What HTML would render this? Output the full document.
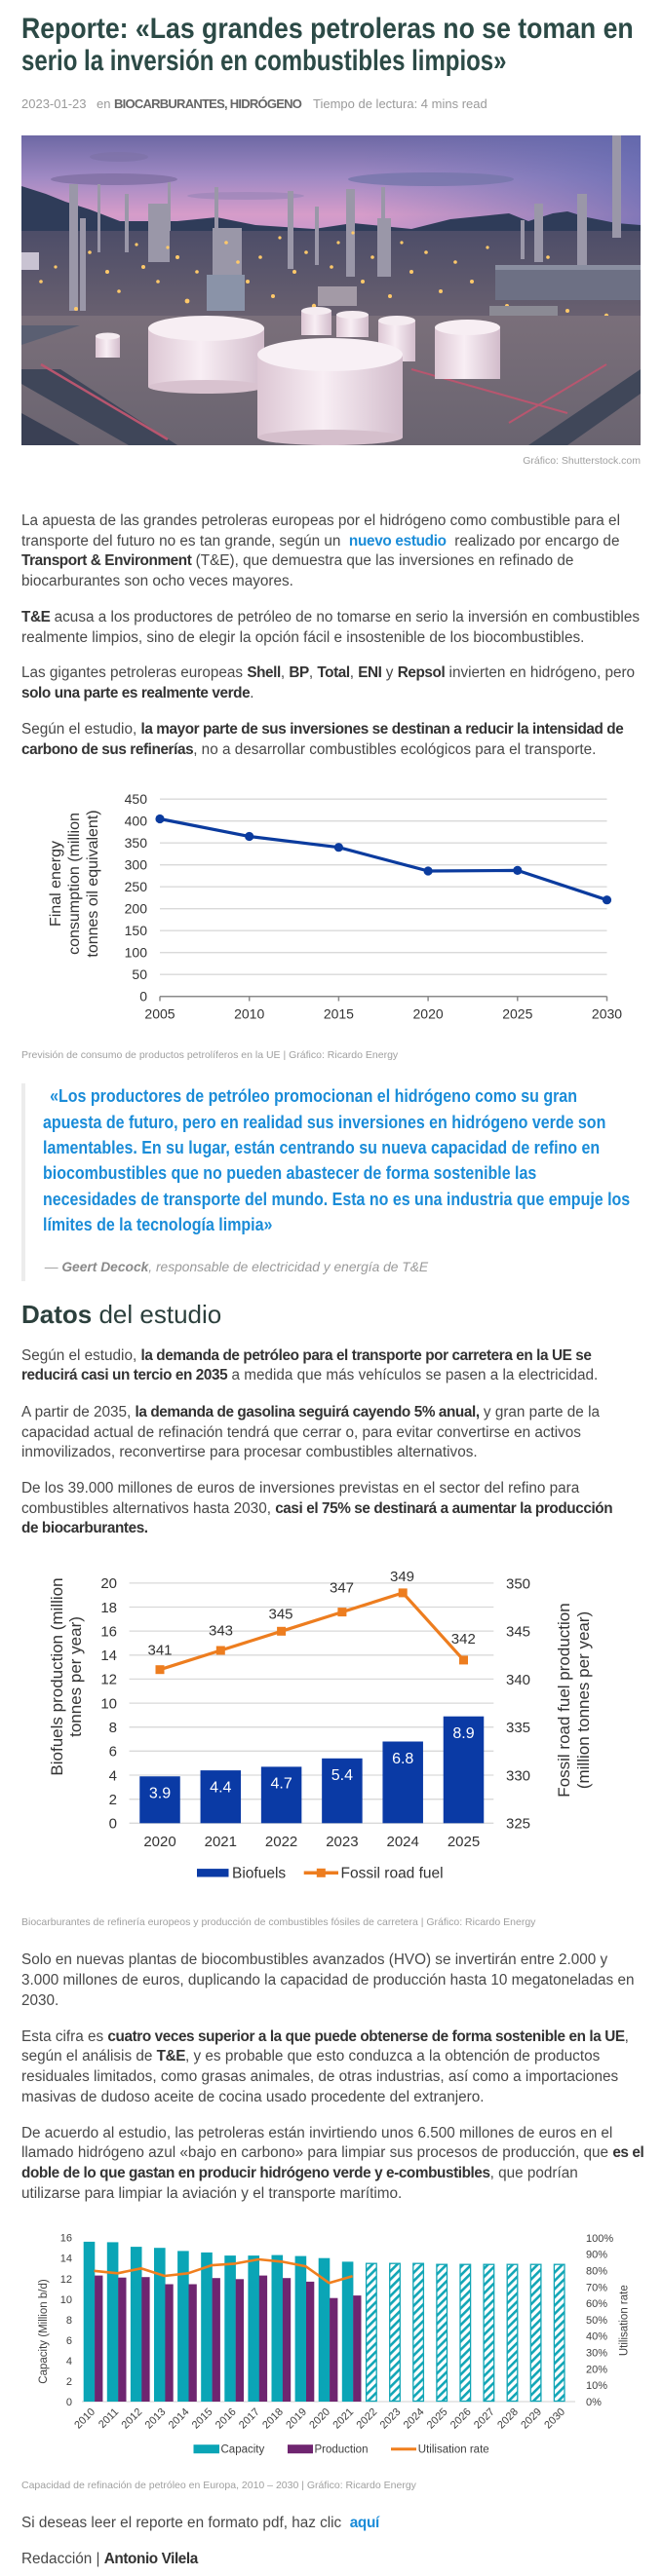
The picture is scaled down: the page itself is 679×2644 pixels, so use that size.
<!DOCTYPE html>
<html><head><meta charset="utf-8">
<style>
*{margin:0;padding:0;box-sizing:border-box}
html,body{width:679px;height:2644px;background:#fff;overflow:hidden}
body{position:relative;font-family:"Liberation Sans",Arial,sans-serif;color:#444}
.a{position:absolute;white-space:nowrap}
.t{position:absolute;left:22px;white-space:nowrap;font-size:15.3px;line-height:20.6px;color:#484848}
.t b{color:#333;letter-spacing:-0.4px}
.t a,.lnk{color:#1a8cd8;font-weight:bold;text-decoration:none;letter-spacing:-0.3px}
.title{position:absolute;left:22px;white-space:nowrap;font-size:30px;line-height:33px;font-weight:bold;color:#2c4a46;transform-origin:0 0}
.meta{position:absolute;top:97px;font-size:13px;line-height:20px;color:#9a9a9a;white-space:nowrap}
.cap{position:absolute;left:22px;font-size:10.5px;line-height:14px;color:#a0a0a0;white-space:nowrap}
.q{position:absolute;left:44.4px;top:1112.4px;font-size:18px;line-height:26.3px;font-weight:bold;color:#1a8cd8;white-space:nowrap;transform:scaleX(.888);transform-origin:0 0}
svg text{font-family:"Liberation Sans",Arial,sans-serif}
</style></head><body>

<div class="title" style="top:13px;transform:scaleX(.888)">Reporte: «Las grandes petroleras no se toman en</div>
<div class="title" style="top:46px;transform:scaleX(.80)">serio la inversión en combustibles limpios»</div>

<div class="meta" style="left:22px">2023-01-23</div>
<div class="meta" style="left:99px">en</div>
<div class="meta" style="left:117px;font-weight:bold;color:#666;letter-spacing:-0.75px">BIOCARBURANTES, HIDRÓGENO</div>
<div class="meta" style="left:321px">Tiempo de lectura: 4 mins read</div>

<svg class="a" style="left:22px;top:139px" width="635" height="318" viewBox="0 0 635 318">
<defs>
<linearGradient id="sky" x1="0" y1="0" x2="0" y2="1">
<stop offset="0" stop-color="#6d68a4"/><stop offset=".35" stop-color="#a08ac4"/><stop offset=".65" stop-color="#d69cc9"/><stop offset="1" stop-color="#b894cf"/>
</linearGradient>
<linearGradient id="skyr" x1="0" y1="0" x2="1" y2="0">
<stop offset="0" stop-color="#6f74b8" stop-opacity="0"/><stop offset=".55" stop-color="#6f74b8" stop-opacity="0"/><stop offset="1" stop-color="#5f68b0" stop-opacity=".7"/>
</linearGradient>
<linearGradient id="tk" x1="0" y1="0" x2="1" y2="0"><stop offset="0" stop-color="#dcc6d3"/><stop offset=".45" stop-color="#f8eef4"/><stop offset="1" stop-color="#d2bccb"/></linearGradient>
<linearGradient id="band" x1="0" y1="0" x2="0" y2="1"><stop offset="0" stop-color="#4d4d68"/><stop offset="1" stop-color="#6a6170"/></linearGradient>
<linearGradient id="gnd" x1="0" y1="0" x2="0" y2="1"><stop offset="0" stop-color="#7a6f7a"/><stop offset="1" stop-color="#6a6470"/></linearGradient>
</defs>
<rect width="635" height="125" fill="url(#sky)"/>
<rect width="635" height="125" fill="url(#skyr)"/>
<ellipse cx="95" cy="45" rx="65" ry="6" fill="#7f6fa2" opacity=".8"/>
<ellipse cx="100" cy="22" rx="30" ry="5" fill="#7d72a6" opacity=".7"/>
<ellipse cx="420" cy="45" rx="85" ry="7" fill="#7576aa" opacity=".8"/>
<ellipse cx="230" cy="62" rx="60" ry="4" fill="#9b86b8" opacity=".7"/>
<path d="M0 52 L25 60 L45 68 L70 76 L101 88 L160 88 L200 84 L240 92 L300 96 L340 90 L400 96 L440 86 L480 82 L500 80 L520 88 L545 80 L560 78 L580 84 L610 90 L635 92 L635 130 L0 130Z" fill="#2f3c59"/>
<rect x="0" y="98" width="635" height="92" fill="url(#band)"/>
<g fill="#9a97a8">
<rect x="49" y="50" width="9" height="130"/><rect x="60" y="85" width="6" height="95"/><rect x="78" y="50" width="3" height="70"/>
<rect x="106" y="60" width="4" height="60"/><rect x="130" y="70" width="22" height="60"/><rect x="150" y="48" width="3" height="50"/>
<rect x="198" y="53" width="4" height="60"/><rect x="196" y="95" width="30" height="50"/><rect x="273" y="57" width="6" height="80"/>
<rect x="301" y="73" width="4" height="60"/><rect x="333" y="55" width="9" height="90"/><rect x="369" y="53" width="4" height="70"/>
<rect x="365" y="85" width="14" height="60"/><rect x="526" y="70" width="9" height="60"/><rect x="512" y="87" width="4" height="40"/>
<rect x="570" y="60" width="10" height="75"/><rect x="606" y="0" width="9" height="105"/>
</g>
<rect x="0" y="120" width="18" height="18" fill="#c9c3d2"/>
<g fill="#ffc96a">
<circle cx="20" cy="150" r="1.8"/><circle cx="35" cy="135" r="1.6"/><circle cx="70" cy="120" r="1.8"/><circle cx="88" cy="140" r="2"/><circle cx="100" cy="160" r="1.8"/>
<circle cx="118" cy="112" r="1.6"/><circle cx="125" cy="135" r="2"/><circle cx="140" cy="150" r="1.8"/><circle cx="160" cy="125" r="2"/><circle cx="170" cy="170" r="2.4"/>
<circle cx="180" cy="140" r="1.8"/><circle cx="210" cy="110" r="1.8"/><circle cx="232" cy="150" r="2"/><circle cx="245" cy="125" r="1.8"/><circle cx="258" cy="165" r="2"/>
<circle cx="265" cy="105" r="1.6"/><circle cx="280" cy="140" r="2"/><circle cx="292" cy="120" r="1.8"/><circle cx="300" cy="175" r="2.2"/><circle cx="318" cy="135" r="1.8"/>
<circle cx="325" cy="110" r="1.6"/><circle cx="350" cy="150" r="2"/><circle cx="360" cy="125" r="1.8"/><circle cx="378" cy="165" r="2"/><circle cx="390" cy="110" r="1.6"/>
<circle cx="400" cy="140" r="2"/><circle cx="415" cy="120" r="1.8"/><circle cx="430" cy="160" r="2"/><circle cx="445" cy="130" r="1.8"/><circle cx="462" cy="150" r="2"/>
<circle cx="478" cy="115" r="1.6"/><circle cx="498" cy="175" r="2"/><circle cx="540" cy="125" r="1.8"/><circle cx="560" cy="180" r="2"/><circle cx="600" cy="185" r="2.2"/>
<circle cx="95" cy="190" r="2.4"/><circle cx="56" cy="178" r="2"/><circle cx="150" cy="115" r="1.6"/><circle cx="222" cy="130" r="1.8"/><circle cx="340" cy="100" r="1.6"/>
</g>
<rect x="486" y="133" width="149" height="36" fill="#6d7084"/>
<rect x="486" y="133" width="149" height="5" fill="#8a8ea0"/>
<rect x="480" y="175" width="70" height="35" fill="#8b8a94"/>
<rect x="190" y="143" width="39" height="37" fill="#8a93a8"/>
<rect x="304" y="155" width="40" height="20" fill="#a39aa6"/>
<path d="M0 185 L635 185 L635 318 L0 318Z" fill="url(#gnd)"/>
<path d="M0 195 L60 195 L0 215Z" fill="#5a5f72"/>
<path d="M0 240 L40 240 L160 318 L110 318 L0 255Z" fill="#3f4659"/>
<path d="M0 285 L60 318 L0 318Z" fill="#3a4054"/>
<path d="M20 235 L150 312" stroke="#b8566f" stroke-width="2.5"/>
<path d="M520 318 L635 240 L635 265 L560 318Z" fill="#404759"/>
<path d="M400 240 L560 285" stroke="#b8566f" stroke-width="2"/>
<path d="M500 295 L600 235" stroke="#b8566f" stroke-width="2"/>
<g>
<rect x="76" y="206" width="25" height="22" fill="url(#tk)"/><ellipse cx="88.5" cy="206" rx="12.5" ry="3.5" fill="#f5ecf1"/>
<rect x="287" y="180" width="31" height="25" fill="url(#tk)"/><ellipse cx="302.5" cy="180" rx="15.5" ry="4" fill="#f5ecf1"/>
<rect x="323" y="184" width="33" height="23" fill="url(#tk)"/><ellipse cx="339.5" cy="184" rx="16.5" ry="4" fill="#f5ecf1"/>
<rect x="366" y="190" width="38" height="42" fill="url(#tk)"/><ellipse cx="385" cy="190" rx="19" ry="5" fill="#f5ecf1"/>
<rect x="130" y="198" width="119" height="60" fill="url(#tk)"/><ellipse cx="189.5" cy="198" rx="59.5" ry="13" fill="#f7eef3"/><ellipse cx="189.5" cy="258" rx="59.5" ry="7" fill="#d8c2cf"/>
<rect x="424" y="197" width="67" height="53" fill="url(#tk)"/><ellipse cx="457.5" cy="197" rx="33.5" ry="8" fill="#f7eef3"/>
<rect x="242" y="225" width="149" height="85" fill="url(#tk)"/><ellipse cx="316.5" cy="225" rx="74.5" ry="17" fill="#f8f0f5"/><ellipse cx="316.5" cy="310" rx="74.5" ry="8" fill="#d5bfcc"/>
</g>
</svg>
<div class="cap" style="left:auto;right:22px;top:466px">Gráfico: Shutterstock.com</div>

<div class="t" style="top:525.1px">La apuesta de las grandes petroleras europeas por el hidrógeno como combustible para el<br>transporte del futuro no es tan grande, según un&nbsp; <a>nuevo estudio</a>&nbsp; realizado por encargo de<br><b>Transport &amp; Environment</b> (T&amp;E), que demuestra que las inversiones en refinado de<br>biocarburantes son ocho veces mayores.</div>

<div class="t" style="top:624.1px"><b>T&amp;E</b> acusa a los productores de petróleo de no tomarse en serio la inversión en combustibles<br>realmente limpios, sino de elegir la opción fácil e insostenible de los biocombustibles.</div>

<div class="t" style="top:681.4px">Las gigantes petroleras europeas <b>Shell</b>, <b>BP</b>, <b>Total</b>, <b>ENI</b> y <b>Repsol</b> invierten en hidrógeno, pero<br><b>solo una parte es realmente verde</b>.</div>

<div class="t" style="top:739.1px">Según el estudio, <b>la mayor parte de sus inversiones se destinan a reducir la intensidad de</b><br><b>carbono de sus refinerías</b>, no a desarrollar combustibles ecológicos para el transporte.</div>

<!-- Chart 1 -->
<svg class="a" style="left:0;top:790px" width="679" height="280">
<g stroke="#d9d9d9" stroke-width="1.3">
<line x1="164" x2="622.5" y1="210.2" y2="210.2"/><line x1="164" x2="622.5" y1="187.7" y2="187.7"/>
<line x1="164" x2="622.5" y1="165.2" y2="165.2"/><line x1="164" x2="622.5" y1="142.7" y2="142.7"/>
<line x1="164" x2="622.5" y1="120.2" y2="120.2"/><line x1="164" x2="622.5" y1="97.7" y2="97.7"/>
<line x1="164" x2="622.5" y1="75.2" y2="75.2"/><line x1="164" x2="622.5" y1="52.7" y2="52.7"/>
<line x1="164" x2="622.5" y1="30.2" y2="30.2"/>
</g>
<g stroke="#8a8a8a" stroke-width="1.5">
<line x1="164" x2="622.5" y1="232.7" y2="232.7"/>
<line x1="164" x2="164" y1="232.7" y2="237.5"/><line x1="255.7" x2="255.7" y1="232.7" y2="237.5"/>
<line x1="347.4" x2="347.4" y1="232.7" y2="237.5"/><line x1="439.1" x2="439.1" y1="232.7" y2="237.5"/>
<line x1="530.8" x2="530.8" y1="232.7" y2="237.5"/><line x1="622.5" x2="622.5" y1="232.7" y2="237.5"/>
</g>
<g font-size="14" fill="#333" text-anchor="end">
<text x="151" y="237.7">0</text><text x="151" y="215.2">50</text><text x="151" y="192.7">100</text>
<text x="151" y="170.2">150</text><text x="151" y="147.7">200</text><text x="151" y="125.2">250</text>
<text x="151" y="102.7">300</text><text x="151" y="80.2">350</text><text x="151" y="57.7">400</text><text x="151" y="35.2">450</text>
</g>
<g font-size="14" fill="#333" text-anchor="middle">
<text x="164" y="255.5">2005</text><text x="255.7" y="255.5">2010</text><text x="347.4" y="255.5">2015</text>
<text x="439.1" y="255.5">2020</text><text x="530.8" y="255.5">2025</text><text x="622.5" y="255.5">2030</text>
</g>
<g font-size="16" fill="#333" text-anchor="middle">
<text transform="translate(62,117) rotate(-90)">Final energy</text>
<text transform="translate(81,117) rotate(-90)">consumption (million</text>
<text transform="translate(100,117) rotate(-90)">tonnes oil equivalent)</text>
</g>
<polyline points="164,50.5 255.7,68.5 347.4,79.7 439.1,104 530.8,103.4 622.5,133.7" fill="none" stroke="#0b3b9e" stroke-width="3.2" stroke-linejoin="round"/>
<g fill="#0b3b9e">
<circle cx="164" cy="50.5" r="4.6"/><circle cx="255.7" cy="68.5" r="4.6"/><circle cx="347.4" cy="79.7" r="4.6"/>
<circle cx="439.1" cy="104" r="4.6"/><circle cx="530.8" cy="103.4" r="4.6"/><circle cx="622.5" cy="133.7" r="4.6"/>
</g>
</svg>
<div class="cap" style="top:1076px">Previsión de consumo de productos petrolíferos en la UE | Gráfico: Ricardo Energy</div>

<!-- Quote -->
<div class="a" style="left:22px;top:1111.7px;width:4px;height:203px;background:#ececec"></div>
<div class="q"><span style="margin-left:8px">«Los productores de petróleo promocionan el hidrógeno como su gran</span><br>apuesta de futuro, pero en realidad sus inversiones en hidrógeno verde son<br>lamentables. En su lugar, están centrando su nueva capacidad de refino en<br>biocombustibles que no pueden abastecer de forma sostenible las<br>necesidades de transporte del mundo. Esta no es una industria que empuje los<br>límites de la tecnología limpia»</div>
<div class="a" style="left:45.7px;top:1291.3px;font-size:13.8px;line-height:20px;font-style:italic;color:#9a9a9a">— <b style="color:#8a8a8a">Geert Decock</b>, responsable de electricidad y energía de T&amp;E</div>

<div class="a" style="left:22px;top:1334px;font-size:26px;line-height:30px;color:#2c403d"><b>Datos</b> del estudio</div>

<div class="t" style="top:1381.8px">Según el estudio, <b>la demanda de petróleo para el transporte por carretera en la UE se</b><br><b>reducirá casi un tercio en 2035</b> a medida que más vehículos se pasen a la electricidad.</div>

<div class="t" style="top:1440.1px">A partir de 2035, <b>la demanda de gasolina seguirá cayendo 5% anual,</b> y gran parte de la<br>capacidad actual de refinación tendrá que cerrar o, para evitar convertirse en activos<br>inmovilizados, reconvertirse para procesar combustibles alternativos.</div>

<div class="t" style="top:1518.1px">De los 39.000 millones de euros de inversiones previstas en el sector del refino para<br>combustibles alternativos hasta 2030, <b>casi el 75% se destinará a aumentar la producción</b><br><b>de biocarburantes.</b></div>

<!-- Chart 2 -->
<svg class="a" style="left:0;top:1600px" width="679" height="340">
<g stroke="#d9d9d9" stroke-width="1.3">
<line x1="132.6" x2="506.3" y1="271.3" y2="271.3"/><line x1="132.6" x2="506.3" y1="246.7" y2="246.7"/>
<line x1="132.6" x2="506.3" y1="222" y2="222"/><line x1="132.6" x2="506.3" y1="197.3" y2="197.3"/>
<line x1="132.6" x2="506.3" y1="172.7" y2="172.7"/><line x1="132.6" x2="506.3" y1="148.1" y2="148.1"/>
<line x1="132.6" x2="506.3" y1="123.4" y2="123.4"/><line x1="132.6" x2="506.3" y1="98.8" y2="98.8"/>
<line x1="132.6" x2="506.3" y1="74.1" y2="74.1"/><line x1="132.6" x2="506.3" y1="49.5" y2="49.5"/>
<line x1="132.6" x2="506.3" y1="24.9" y2="24.9"/>
</g>
<g font-size="15" fill="#333" text-anchor="end">
<text x="120" y="276.6">0</text><text x="120" y="252">2</text><text x="120" y="227.3">4</text><text x="120" y="202.6">6</text>
<text x="120" y="178">8</text><text x="120" y="153.4">10</text><text x="120" y="128.7">12</text><text x="120" y="104.1">14</text>
<text x="120" y="79.4">16</text><text x="120" y="54.8">18</text><text x="120" y="30.2">20</text>
</g>
<g font-size="15" fill="#333">
<text x="519" y="276.6">325</text><text x="519" y="227.3">330</text><text x="519" y="178.1">335</text>
<text x="519" y="128.8">340</text><text x="519" y="79.6">345</text><text x="519" y="30.3">350</text>
</g>
<g fill="#0a3aa5">
<rect x="143.25" y="223.25" width="41.5" height="48.05"/>
<rect x="205.55" y="217.1" width="41.5" height="54.2"/>
<rect x="267.85" y="213.4" width="41.5" height="57.9"/>
<rect x="330.15" y="204.8" width="41.5" height="66.5"/>
<rect x="392.45" y="187.5" width="41.5" height="83.8"/>
<rect x="454.75" y="161.7" width="41.5" height="109.6"/>
</g>
<g font-size="16" fill="#fff" text-anchor="middle">
<text x="164" y="245.5">3.9</text><text x="226.3" y="239.4">4.4</text><text x="288.6" y="235.7">4.7</text>
<text x="350.9" y="227.1">5.4</text><text x="413.2" y="209.8">6.8</text><text x="475.5" y="184">8.9</text>
</g>
<g font-size="15" fill="#333" text-anchor="middle">
<text x="164" y="294.8">2020</text><text x="226.3" y="294.8">2021</text><text x="288.6" y="294.8">2022</text>
<text x="350.9" y="294.8">2023</text><text x="413.2" y="294.8">2024</text><text x="475.5" y="294.8">2025</text>
</g>
<polyline points="164,113.7 226.3,94 288.6,74.3 350.9,54.6 413.2,34.9 475.5,103.9" fill="none" stroke="#ed7d1f" stroke-width="3.2" stroke-linejoin="round"/>
<g fill="#ed7d1f">
<rect x="159.5" y="109.2" width="9" height="9"/><rect x="221.8" y="89.5" width="9" height="9"/><rect x="284.1" y="69.8" width="9" height="9"/>
<rect x="346.4" y="50.1" width="9" height="9"/><rect x="408.7" y="30.4" width="9" height="9"/><rect x="471" y="99.4" width="9" height="9"/>
</g>
<g font-size="15" fill="#333" text-anchor="middle">
<text x="164" y="98.6">341</text><text x="226.5" y="78.6">343</text><text x="288" y="61.3">345</text>
<text x="350.5" y="34.6">347</text><text x="412.5" y="23">349</text><text x="475.3" y="87">342</text>
</g>
<g font-size="17" fill="#333" text-anchor="middle">
<text transform="translate(64,121) rotate(-90)">Biofuels production (million</text>
<text transform="translate(83,121) rotate(-90)">tonnes per year)</text>
<text transform="translate(584,145) rotate(-90)">Fossil road fuel production</text>
<text transform="translate(604,145) rotate(-90)">(million tonnes per year)</text>
</g>
<rect x="202" y="318.1" width="32.5" height="8.4" fill="#0a3aa5"/>
<text x="238" y="327.7" font-size="15.5" fill="#333">Biofuels</text>
<line x1="311.7" x2="347" y1="322.3" y2="322.3" stroke="#ed7d1f" stroke-width="3.5"/>
<rect x="324.8" y="317.8" width="9" height="9" fill="#ed7d1f"/>
<text x="349.5" y="327.7" font-size="15.5" fill="#333">Fossil road fuel</text>
</svg>
<div class="cap" style="top:1966px">Biocarburantes de refinería europeos y producción de combustibles fósiles de carretera | Gráfico: Ricardo Energy</div>

<div class="t" style="top:2002.4px">Solo en nuevas plantas de biocombustibles avanzados (HVO) se invertirán entre 2.000 y<br>3.000 millones de euros, duplicando la capacidad de producción hasta 10 megatoneladas en<br>2030.</div>

<div class="t" style="top:2080.8px">Esta cifra es <b>cuatro veces superior a la que puede obtenerse de forma sostenible en la UE</b>,<br>según el análisis de <b>T&amp;E</b>, y es probable que esto conduzca a la obtención de productos<br>residuales limitados, como grasas animales, de otras industrias, así como a importaciones<br>masivas de dudoso aceite de cocina usado procedente del extranjero.</div>

<div class="t" style="top:2179.8px">De acuerdo al estudio, las petroleras están invirtiendo unos 6.500 millones de euros en el<br>llamado hidrógeno azul «bajo en carbono» para limpiar sus procesos de producción, que <b>es el</b><br><b>doble de lo que gastan en producir hidrógeno verde y e-combustibles</b>, que podrían<br>utilizarse para limpiar la aviación y el transporte marítimo.</div>

<!-- Chart 3 -->
<svg class="a" style="left:0;top:2280px" width="679" height="245">
<defs>
<pattern id="hp" patternUnits="userSpaceOnUse" width="6" height="6" patternTransform="rotate(45)">
<rect width="6" height="6" fill="#fff"/><rect width="2.6" height="6" fill="#12a6b6"/>
</pattern>
</defs>
<line x1="84" x2="590" y1="185" y2="185" stroke="#d9d9d9" stroke-width="1.2"/>
<g font-size="11" fill="#404040" text-anchor="end">
<text x="74" y="189">0</text><text x="74" y="168">2</text><text x="74" y="146.9">4</text><text x="74" y="125.9">6</text>
<text x="74" y="104.8">8</text><text x="74" y="83.8">10</text><text x="74" y="62.8">12</text><text x="74" y="41.7">14</text><text x="74" y="20.7">16</text>
</g>
<g font-size="11" fill="#404040">
<text x="601" y="189">0%</text><text x="601" y="172.2">10%</text><text x="601" y="155.4">20%</text><text x="601" y="138.5">30%</text>
<text x="601" y="121.7">40%</text><text x="601" y="104.9">50%</text><text x="601" y="88.1">60%</text><text x="601" y="71.3">70%</text>
<text x="601" y="54.4">80%</text><text x="601" y="37.6">90%</text><text x="601" y="20.8">100%</text>
</g>
<g fill="#0aa5b6">
<rect x="85.7" y="20.9" width="11.6" height="164.1"/>
<rect x="109.8" y="21.4" width="11.6" height="163.6"/>
<rect x="133.9" y="26.1" width="11.6" height="158.9"/>
<rect x="158" y="27.2" width="11.6" height="157.8"/>
<rect x="182.1" y="30.4" width="11.6" height="154.6"/>
<rect x="206.2" y="31.9" width="11.6" height="153.1"/>
<rect x="230.3" y="35.1" width="11.6" height="149.9"/>
<rect x="254.4" y="35.1" width="11.6" height="149.9"/>
<rect x="278.5" y="34.6" width="11.6" height="150.4"/>
<rect x="302.6" y="35.6" width="11.6" height="149.4"/>
<rect x="326.7" y="37.7" width="11.6" height="147.3"/>
<rect x="350.8" y="41.4" width="11.6" height="143.6"/>
</g>
<g fill="#6f2570">
<rect x="97.1" y="55.6" width="8.3" height="129.4"/>
<rect x="121.2" y="57.7" width="8.3" height="127.3"/>
<rect x="145.3" y="57.2" width="8.3" height="127.8"/>
<rect x="169.4" y="64.5" width="8.3" height="120.5"/>
<rect x="193.5" y="64.5" width="8.3" height="120.5"/>
<rect x="217.6" y="58.2" width="8.3" height="126.8"/>
<rect x="241.7" y="59.3" width="8.3" height="125.7"/>
<rect x="265.8" y="55.6" width="8.3" height="129.4"/>
<rect x="289.9" y="58.2" width="8.3" height="126.8"/>
<rect x="314" y="61.9" width="8.3" height="123.1"/>
<rect x="338.1" y="78.7" width="8.3" height="106.3"/>
<rect x="362.2" y="76.1" width="8.3" height="108.9"/>
</g>
<g fill="url(#hp)" stroke="#12a6b6" stroke-width="1.3">
<rect x="375.6" y="43.2" width="10.6" height="141.3"/>
<rect x="399.7" y="43.2" width="10.6" height="141.3"/>
<rect x="423.8" y="43.2" width="10.6" height="141.3"/>
<rect x="447.9" y="44.2" width="10.6" height="140.3"/>
<rect x="472" y="44.2" width="10.6" height="140.3"/>
<rect x="496.1" y="44.2" width="10.6" height="140.3"/>
<rect x="520.2" y="44.2" width="10.6" height="140.3"/>
<rect x="544.3" y="44.2" width="10.6" height="140.3"/>
<rect x="568.4" y="44.2" width="10.6" height="140.3"/>
</g>
<polyline points="96.5,50.8 120.6,53.3 144.7,48.3 168.8,56 192.9,53.3 217,45.1 241.1,43.4 265.2,39 289.3,41.4 313.4,46.1 337.5,63.2 361.6,56.3" fill="none" stroke="#f07f1e" stroke-width="2.6" stroke-linejoin="round"/>
<g font-size="11" fill="#404040" text-anchor="end">
<text transform="translate(98,196) rotate(-45)">2010</text>
<text transform="translate(122.1,196) rotate(-45)">2011</text>
<text transform="translate(146.2,196) rotate(-45)">2012</text>
<text transform="translate(170.3,196) rotate(-45)">2013</text>
<text transform="translate(194.4,196) rotate(-45)">2014</text>
<text transform="translate(218.5,196) rotate(-45)">2015</text>
<text transform="translate(242.6,196) rotate(-45)">2016</text>
<text transform="translate(266.7,196) rotate(-45)">2017</text>
<text transform="translate(290.8,196) rotate(-45)">2018</text>
<text transform="translate(314.9,196) rotate(-45)">2019</text>
<text transform="translate(339,196) rotate(-45)">2020</text>
<text transform="translate(363.1,196) rotate(-45)">2021</text>
<text transform="translate(387.2,196) rotate(-45)">2022</text>
<text transform="translate(411.3,196) rotate(-45)">2023</text>
<text transform="translate(435.4,196) rotate(-45)">2024</text>
<text transform="translate(459.5,196) rotate(-45)">2025</text>
<text transform="translate(483.6,196) rotate(-45)">2026</text>
<text transform="translate(507.7,196) rotate(-45)">2027</text>
<text transform="translate(531.8,196) rotate(-45)">2028</text>
<text transform="translate(555.9,196) rotate(-45)">2029</text>
<text transform="translate(580,196) rotate(-45)">2030</text>
</g>
<g font-size="11.5" fill="#404040" text-anchor="middle">
<text transform="translate(48,113) rotate(-90)">Capacity (Million b/d)</text>
<text transform="translate(643.5,101.7) rotate(-90)">Utilisation rate</text>
</g>
<rect x="198.5" y="229.2" width="26.5" height="9" fill="#0aa5b6"/>
<text x="226.5" y="237.7" font-size="11.5" fill="#404040">Capacity</text>
<rect x="295" y="229.2" width="26" height="9" fill="#6f2570"/>
<text x="322.5" y="237.7" font-size="11.5" fill="#404040">Production</text>
<line x1="401" x2="427" y1="233.7" y2="233.7" stroke="#f07f1e" stroke-width="3"/>
<text x="428.8" y="237.7" font-size="11.5" fill="#404040">Utilisation rate</text>
</svg>
<div class="cap" style="top:2543.7px">Capacidad de refinación de petróleo en Europa, 2010 – 2030 | Gráfico: Ricardo Energy</div>

<div class="t" style="top:2580.1px">Si deseas leer el reporte en formato pdf, haz clic&nbsp; <a>aquí</a></div>
<div class="t" style="top:2617.1px">Redacción | <b>Antonio Vilela</b></div>

</body></html>
